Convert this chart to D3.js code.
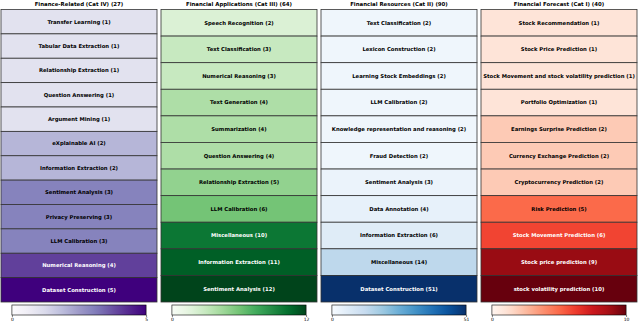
<!DOCTYPE html>
<html>
<head>
<meta charset="UTF-8">
<script src="https://d3js.org/d3.v7.min.js"></script>
<style>
  body { margin: 0; background: #fff; }
  svg { display: block; font-family: "DejaVu Sans", sans-serif; }
</style>
</head>
<body>
<svg width="640" height="322"></svg>
<script>
// four categories, each one column of labelled cells
const titles = ["Finance-Related (Cat IV)", "Financial Applications (Cat III)",
                "Financial Resources (Cat II)", "Financial Forecast (Cat I)"];

const catIV = ["Transfer Learning", "Tabular Data Extraction", "Relationship Extraction",
  "Question Answering", "Argument Mining", "eXplainable AI", "Information Extraction",
  "Sentiment Analysis", "Privacy Preserving", "LLM Calibration", "Numerical Reasoning",
  "Dataset Construction"];
const catIVCounts = [1, 1, 1, 1, 1, 2, 2, 3, 3, 3, 4, 5];

const catIII = ["Speech Recognition", "Text Classification", "Numerical Reasoning",
  "Text Generation", "Summarization", "Question Answering", "Relationship Extraction",
  "LLM Calibration", "Miscellaneous", "Information Extraction", "Sentiment Analysis"];
const catIIICounts = [2, 3, 3, 4, 4, 4, 5, 6, 10, 11, 12];

const catII = ["Text Classification", "Lexicon Construction", "Learning Stock Embeddings",
  "LLM Calibration", "Knowledge representation and reasoning", "Fraud Detection",
  "Sentiment Analysis", "Data Annotation", "Information Extraction", "Miscellaneous",
  "Dataset Construction"];
const catIICounts = [2, 2, 2, 2, 2, 2, 3, 4, 6, 14, 51];

const catI = ["Stock Recommendation", "Stock Price Prediction",
  "Stock Movement and stock volatility prediction", "Portfolio Optimization",
  "Earnings Surprise Prediction", "Currency Exchange Prediction", "Cryptocurrency Prediction",
  "Risk Prediction", "Stock Movement Prediction", "Stock price prediction",
  "stock volatility prediction"];
const catICounts = [1, 1, 1, 1, 2, 2, 2, 5, 6, 9, 10];

const labels = [catIV, catIII, catII, catI];
const counts = [catIVCounts, catIIICounts, catIICounts, catICounts];
const schemes = [d3.schemePurples[9], d3.schemeGreens[9], d3.schemeBlues[9], d3.schemeReds[9]];

const svg = d3.select("svg");

// column positions
const colX = d3.scaleBand().domain(d3.range(4)).range([1, 637]).paddingInner(0.025).paddingOuter(0);
const cellTop = 9.5, cellBottom = 302;

// perceived brightness 0..255, picks label colour
function bright(c) {
  const r = d3.rgb(c);
  return 0.299 * r.r + 0.587 * r.g + 0.114 * r.b;
}

labels.forEach((names, k) => {
  const vals = counts[k];
  const max = d3.max(vals);
  const color = d3.scaleSequential(d3.piecewise(d3.interpolateRgb, schemes[k])).domain([0, max]);
  const x0 = colX(k), w = colX.bandwidth();
  const y = d3.scaleBand().domain(d3.range(names.length)).range([cellTop, cellBottom]);

  const g = svg.append("g");

  g.append("text")
    .attr("x", x0 + w / 2).attr("y", 6)
    .attr("text-anchor", "middle")
    .attr("font-size", 5.4).attr("font-weight", "bold")
    .text(`${titles[k]} (${d3.sum(vals)})`);

  const cell = g.selectAll("g.cell").data(names).join("g").attr("class", "cell");
  cell.append("rect")
    .attr("x", x0).attr("y", (d, i) => y(i))
    .attr("width", w).attr("height", y.bandwidth())
    .attr("fill", (d, i) => color(vals[i]))
    .attr("stroke", "#333").attr("stroke-width", 0.8);
  cell.append("text")
    .attr("x", x0 + w / 2).attr("y", (d, i) => y(i) + y.bandwidth() / 2)
    .attr("dy", "0.35em")
    .attr("text-anchor", "middle")
    .attr("font-size", 5.3).attr("font-weight", "bold")
    .attr("fill", (d, i) => bright(color(vals[i])) < 128 ? "#fff" : "#000")
    .text((d, i) => `${d} (${vals[i]})`);

  // colorbar
  const cbW = w * 0.86, cbX = x0 + (w - cbW) / 2, cbY = 305, cbH = 10;
  const gid = "grad" + k;
  const grad = svg.append("defs").append("linearGradient").attr("id", gid);
  d3.range(0, 1.0001, 0.05).forEach(t => {
    grad.append("stop").attr("offset", t).attr("stop-color", color(t * max));
  });
  g.append("rect")
    .attr("x", cbX).attr("y", cbY).attr("width", cbW).attr("height", cbH)
    .attr("fill", `url(#${gid})`).attr("stroke", "#000").attr("stroke-width", 0.6);

  const cbScale = d3.scaleLinear().domain([0, max]).range([cbX, cbX + cbW]);
  const axis = g.append("g")
    .attr("transform", `translate(0,${cbY + cbH})`)
    .call(d3.axisBottom(cbScale).tickValues([0, max]).tickFormat(d3.format("d"))
      .tickSize(2).tickPadding(0.5));
  axis.select(".domain").remove();
  axis.selectAll("line").attr("stroke-width", 0.5);
  axis.selectAll("text").attr("font-size", 4.5).attr("font-family", "DejaVu Sans");
});
</script>
</body>
</html>
